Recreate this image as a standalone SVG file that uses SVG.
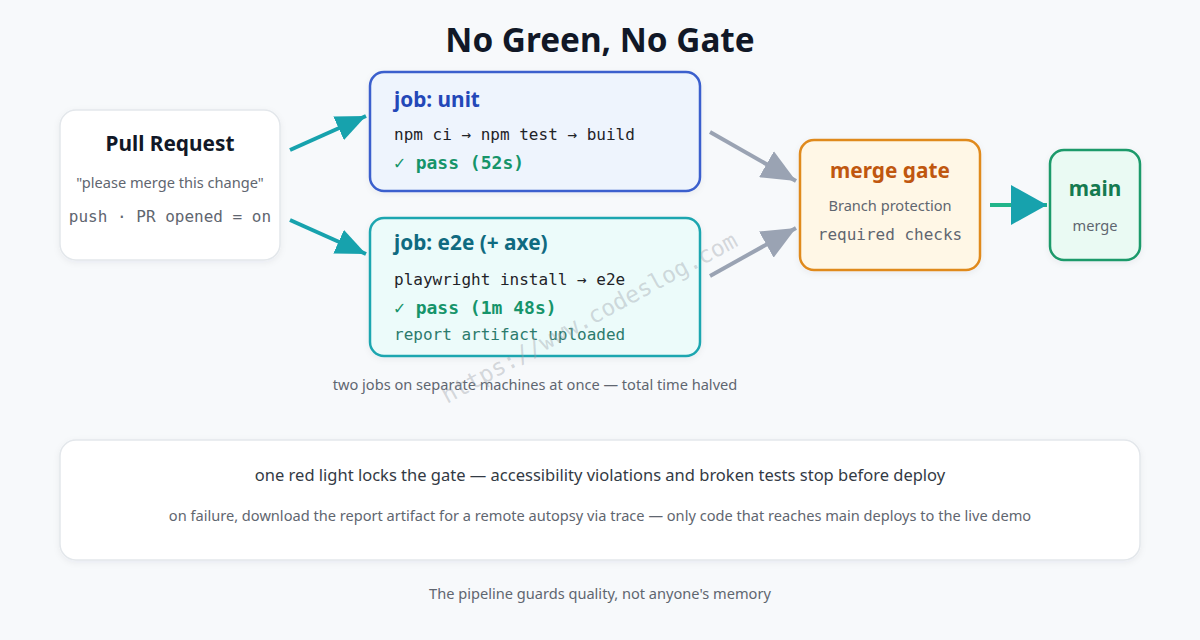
<svg xmlns="http://www.w3.org/2000/svg" width="1200" height="640" viewBox="0 0 1200 640">
<defs>
<style>
.sans{font-family:"Noto Sans","Noto Sans CJK KR","Liberation Sans",sans-serif}
.mono{font-family:"DejaVu Sans Mono","Liberation Mono",monospace}
.ttl{font-size:20.8px;font-weight:700}
.sub{font-size:14.6px;fill:#5f6670}
.code{font-size:16px;fill:#1f2328}
.pass{font-size:18px;font-weight:700;fill:#16946a}
.box{stroke-width:2.5}
</style>
<filter id="sh" x="-10%" y="-10%" width="120%" height="130%">
<feDropShadow dx="0" dy="2" stdDeviation="3" flood-color="#1e2a3a" flood-opacity="0.06"/>
</filter>
<marker id="ht" viewBox="0 0 30 26" refX="30" refY="13" markerWidth="30" markerHeight="26" markerUnits="userSpaceOnUse" orient="auto"><path d="M0,0 L30,13 L0,26 Z" fill="#17a2ad"/></marker>
<marker id="hg" viewBox="0 0 34 30" refX="34" refY="15" markerWidth="34" markerHeight="30" markerUnits="userSpaceOnUse" orient="auto"><path d="M0,0 L34,15 L0,30 Z" fill="#9aa3b3"/></marker>
<marker id="hm" viewBox="0 0 36 40" refX="36" refY="20" markerWidth="36" markerHeight="40" markerUnits="userSpaceOnUse" orient="auto"><path d="M0,0 L36,20 L0,40 Z" fill="#17a2ad"/></marker>
</defs>
<rect width="1200" height="640" fill="#f7f9fb"/>
<text class="sans" x="600" y="52" text-anchor="middle" font-size="33.3" font-weight="700" fill="#111827">No Green, No Gate</text>

<g id="connectors" fill="none" stroke-width="4">
<line x1="290" y1="150" x2="366" y2="116" stroke="#17a2ad" marker-end="url(#ht)"/>
<line x1="290" y1="220" x2="366" y2="254" stroke="#17a2ad" marker-end="url(#ht)"/>
<line x1="710" y1="132" x2="796" y2="181" stroke="#9aa3b3" marker-end="url(#hg)"/>
<line x1="710" y1="276" x2="796" y2="228" stroke="#9aa3b3" marker-end="url(#hg)"/>
<line x1="990" y1="205" x2="1047" y2="205" stroke="#22b58a" marker-end="url(#hm)"/>
</g>

<g id="pr">
<rect x="60" y="110" width="220" height="150" rx="16" fill="#ffffff" stroke="#e3e7eb" stroke-width="1.5" filter="url(#sh)"/>
<text class="sans ttl" x="170" y="151" text-anchor="middle" fill="#111827">Pull Request</text>
<text class="sans sub" x="170" y="188" text-anchor="middle">"please merge this change"</text>
<text class="mono" x="170" y="222" text-anchor="middle" font-size="16" fill="#5f6670">push · PR opened = on</text>
</g>

<g id="job-unit">
<rect x="370" y="72" width="330" height="119" rx="14" fill="#eef4fd" stroke="#3a5fcd" class="box" filter="url(#sh)"/>
<text class="sans ttl" x="394" y="107" fill="#2347b8">job: unit</text>
<text class="mono code" x="394" y="140">npm ci → npm test → build</text>
<text class="mono pass" x="394" y="169"><tspan font-weight="400">✓</tspan> pass (52s)</text>
</g>

<g id="job-e2e">
<rect x="370" y="218" width="330" height="138" rx="14" fill="#ecfbfa" stroke="#1ea6b0" class="box" filter="url(#sh)"/>
<text class="sans ttl" x="394" y="250" fill="#0f6a80">job: e2e (+ axe)</text>
<text class="mono code" x="394" y="285">playwright install → e2e</text>
<text class="mono pass" x="394" y="314"><tspan font-weight="400">✓</tspan> pass (1m 48s)</text>
<text class="mono" x="394" y="340" font-size="16" fill="#2b7a6c">report artifact uploaded</text>
</g>

<g id="gate">
<rect x="800" y="140" width="180" height="130" rx="14" fill="#fff7e6" stroke="#e08a1e" class="box" filter="url(#sh)"/>
<text class="sans ttl" x="890" y="178" text-anchor="middle" fill="#c0570f">merge gate</text>
<text class="sans sub" x="890" y="211" text-anchor="middle">Branch protection</text>
<text class="mono" x="890" y="240" text-anchor="middle" font-size="16" fill="#5f6670">required checks</text>
</g>

<g id="main">
<rect x="1050" y="150" width="90" height="110" rx="14" fill="#eafaf3" stroke="#1a9a6a" class="box" filter="url(#sh)"/>
<text class="sans ttl" x="1095" y="196" text-anchor="middle" fill="#157a50">main</text>
<text class="sans sub" x="1095" y="231" text-anchor="middle">merge</text>
</g>

<text class="sans sub" x="535" y="390" text-anchor="middle">two jobs on separate machines at once — total time halved</text>

<g id="note">
<rect x="60" y="440" width="1080" height="120" rx="16" fill="#ffffff" stroke="#e3e7eb" stroke-width="1.5" filter="url(#sh)"/>
<text class="sans" x="600" y="481" text-anchor="middle" font-size="16.5" fill="#333a44">one red light locks the gate — accessibility violations and broken tests stop before deploy</text>
<text class="sans sub" x="600" y="521" text-anchor="middle">on failure, download the report artifact for a remote autopsy via trace — only code that reaches main deploys to the live demo</text>
</g>

<text class="sans sub" x="600" y="599" text-anchor="middle">The pipeline guards quality, not anyone's memory</text>

<text class="mono" x="0" y="0" font-size="23" fill="#9aa0a8" fill-opacity="0.4" transform="translate(447,404) rotate(-28.5)">https://www.codeslog.com</text>
</svg>
